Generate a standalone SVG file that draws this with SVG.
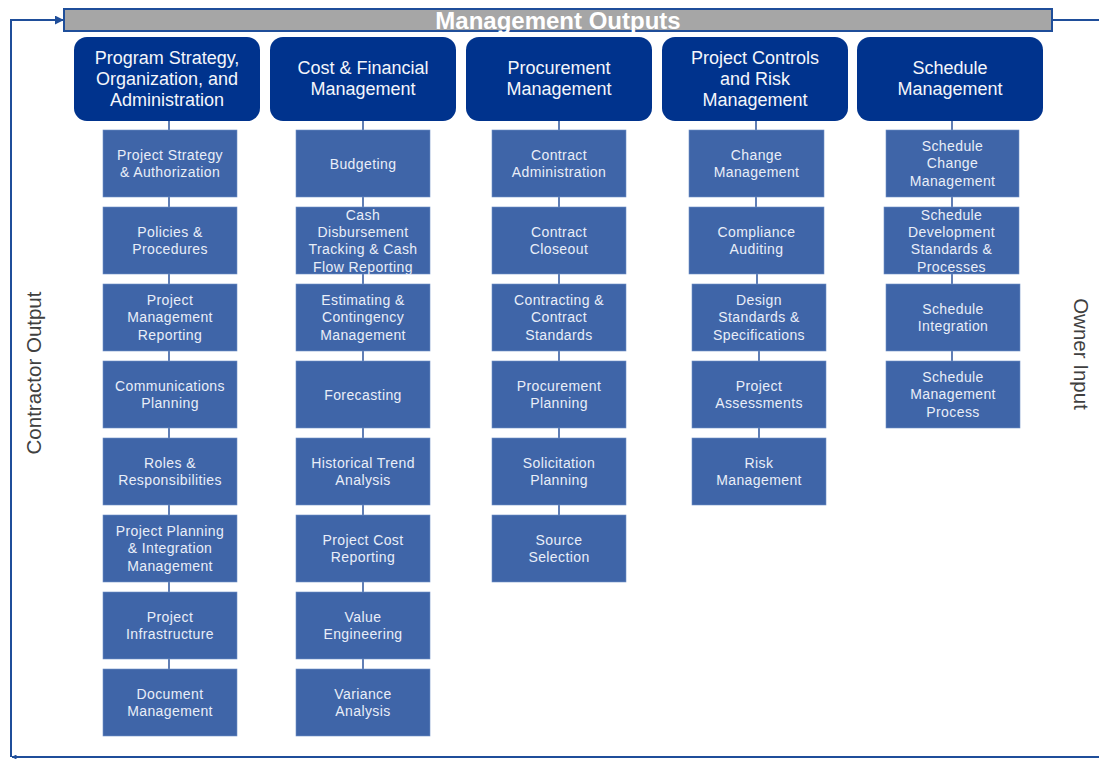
<svg xmlns="http://www.w3.org/2000/svg" width="1099" height="759" viewBox="0 0 1099 759">
<defs>
<style>
.hdr{fill:#00338D;}
.hdrt{fill:#F4F6FB;font-family:"Liberation Sans",Arial,sans-serif;font-size:18px;text-anchor:middle;}
.box{fill:#3F65A8;stroke:#6F8FC6;stroke-width:0.6;}
.bt{fill:#E9EEF8;font-family:"Liberation Sans",Arial,sans-serif;font-size:14px;letter-spacing:0.4px;text-anchor:middle;}
.conn{stroke:#3A5FA3;stroke-width:1.6;fill:none;}
.frame{stroke:#1F4E9A;stroke-width:2;fill:none;}
.side{fill:#404040;font-family:"Liberation Sans",Arial,sans-serif;font-size:20.5px;text-anchor:middle;}
</style>
<marker id="arr" viewBox="0 0 10 10" refX="9" refY="5" markerWidth="9" markerHeight="9" orient="auto" markerUnits="userSpaceOnUse">
<path d="M0,0 L10,5 L0,10 z" fill="#1F4E9A"/>
</marker>
<marker id="arrs" viewBox="0 0 10 10" refX="9" refY="5" markerWidth="5" markerHeight="5" orient="auto" markerUnits="userSpaceOnUse">
<path d="M0,0 L10,5 L0,10 z" fill="#1F4E9A"/>
</marker>
</defs>
<rect width="1099" height="759" fill="#FFFFFF"/>

<g id="connectors">
<path class="frame" d="M1053,20 L1099,20"/>
<path class="frame" d="M1099,757 L12,757" marker-end="url(#arrs)"/>
<path class="frame" d="M11,757 L11,20 L63,20" marker-end="url(#arr)"/>
<path class="conn" d="M169,120 L169,669"/>
<path class="conn" d="M363,120 L363,669"/>
<path class="conn" d="M559,120 L559,515"/>
<path class="conn" d="M756,120 L756,207 M757,274 L757,284 M759,351 L759,438"/>
<path class="conn" d="M952,120 L952,361"/>
</g>

<g id="management-outputs">
<rect x="64" y="9" width="988" height="22" fill="#A6A6A6" stroke="#1F4E9A" stroke-width="2"/>
<text x="558" y="28.5" fill="#FFFFFF" font-family="Liberation Sans,Arial,sans-serif" font-size="24" font-weight="bold" text-anchor="middle">Management Outputs</text>
</g>

<g id="label-contractor-output"><text class="side" transform="translate(41,373) rotate(-90)">Contractor Output</text></g>
<g id="label-owner-input"><text class="side" transform="translate(1074,354) rotate(90)">Owner Input</text></g>

<g id="hdr-program"><rect class="hdr" x="74" y="37" width="186" height="84" rx="13"/><text class="hdrt" y="64"><tspan x="167" dy="0">Program Strategy,</tspan><tspan x="167" dy="21">Organization, and</tspan><tspan x="167" dy="21">Administration</tspan></text></g>
<g id="hdr-cost"><rect class="hdr" x="270" y="37" width="186" height="84" rx="13"/><text class="hdrt" y="74"><tspan x="363" dy="0">Cost &amp; Financial</tspan><tspan x="363" dy="21">Management</tspan></text></g>
<g id="hdr-procurement"><rect class="hdr" x="466" y="37" width="186" height="84" rx="13"/><text class="hdrt" y="74"><tspan x="559" dy="0">Procurement</tspan><tspan x="559" dy="21">Management</tspan></text></g>
<g id="hdr-controls"><rect class="hdr" x="662" y="37" width="186" height="84" rx="13"/><text class="hdrt" y="64"><tspan x="755" dy="0">Project Controls</tspan><tspan x="755" dy="21">and Risk</tspan><tspan x="755" dy="21">Management</tspan></text></g>
<g id="hdr-schedule"><rect class="hdr" x="857" y="37" width="186" height="84" rx="13"/><text class="hdrt" y="74"><tspan x="950" dy="0">Schedule</tspan><tspan x="950" dy="21">Management</tspan></text></g>

<!-- Column 1 -->
<g id="c1-r1"><rect class="box" x="103" y="130" width="134" height="67"/><text class="bt" y="159.5"><tspan x="170">Project Strategy</tspan><tspan x="170" dy="17.4">&amp; Authorization</tspan></text></g>
<g id="c1-r2"><rect class="box" x="103" y="207" width="134" height="67"/><text class="bt" y="236.5"><tspan x="170">Policies &amp;</tspan><tspan x="170" dy="17.4">Procedures</tspan></text></g>
<g id="c1-r3"><rect class="box" x="103" y="284" width="134" height="67"/><text class="bt" y="304.8"><tspan x="170">Project</tspan><tspan x="170" dy="17.4">Management</tspan><tspan x="170" dy="17.4">Reporting</tspan></text></g>
<g id="c1-r4"><rect class="box" x="103" y="361" width="134" height="67"/><text class="bt" y="390.5"><tspan x="170">Communications</tspan><tspan x="170" dy="17.4">Planning</tspan></text></g>
<g id="c1-r5"><rect class="box" x="103" y="438" width="134" height="67"/><text class="bt" y="467.5"><tspan x="170">Roles &amp;</tspan><tspan x="170" dy="17.4">Responsibilities</tspan></text></g>
<g id="c1-r6"><rect class="box" x="103" y="515" width="134" height="67"/><text class="bt" y="535.8"><tspan x="170">Project Planning</tspan><tspan x="170" dy="17.4">&amp; Integration</tspan><tspan x="170" dy="17.4">Management</tspan></text></g>
<g id="c1-r7"><rect class="box" x="103" y="592" width="134" height="67"/><text class="bt" y="621.5"><tspan x="170">Project</tspan><tspan x="170" dy="17.4">Infrastructure</tspan></text></g>
<g id="c1-r8"><rect class="box" x="103" y="669" width="134" height="67"/><text class="bt" y="698.5"><tspan x="170">Document</tspan><tspan x="170" dy="17.4">Management</tspan></text></g>

<!-- Column 2 -->
<g id="c2-r1"><rect class="box" x="296" y="130" width="134" height="67"/><text class="bt" y="168.5"><tspan x="363">Budgeting</tspan></text></g>
<g id="c2-r2"><rect class="box" x="296" y="207" width="134" height="67"/><text class="bt" y="219.6"><tspan x="363">Cash</tspan><tspan x="363" dy="17.4">Disbursement</tspan><tspan x="363" dy="17.4">Tracking &amp; Cash</tspan><tspan x="363" dy="17.4">Flow Reporting</tspan></text></g>
<g id="c2-r3"><rect class="box" x="296" y="284" width="134" height="67"/><text class="bt" y="304.8"><tspan x="363">Estimating &amp;</tspan><tspan x="363" dy="17.4">Contingency</tspan><tspan x="363" dy="17.4">Management</tspan></text></g>
<g id="c2-r4"><rect class="box" x="296" y="361" width="134" height="67"/><text class="bt" y="399.5"><tspan x="363">Forecasting</tspan></text></g>
<g id="c2-r5"><rect class="box" x="296" y="438" width="134" height="67"/><text class="bt" y="467.5"><tspan x="363">Historical Trend</tspan><tspan x="363" dy="17.4">Analysis</tspan></text></g>
<g id="c2-r6"><rect class="box" x="296" y="515" width="134" height="67"/><text class="bt" y="544.5"><tspan x="363">Project Cost</tspan><tspan x="363" dy="17.4">Reporting</tspan></text></g>
<g id="c2-r7"><rect class="box" x="296" y="592" width="134" height="67"/><text class="bt" y="621.5"><tspan x="363">Value</tspan><tspan x="363" dy="17.4">Engineering</tspan></text></g>
<g id="c2-r8"><rect class="box" x="296" y="669" width="134" height="67"/><text class="bt" y="698.5"><tspan x="363">Variance</tspan><tspan x="363" dy="17.4">Analysis</tspan></text></g>

<!-- Column 3 -->
<g id="c3-r1"><rect class="box" x="492" y="130" width="134" height="67"/><text class="bt" y="159.5"><tspan x="559">Contract</tspan><tspan x="559" dy="17.4">Administration</tspan></text></g>
<g id="c3-r2"><rect class="box" x="492" y="207" width="134" height="67"/><text class="bt" y="236.5"><tspan x="559">Contract</tspan><tspan x="559" dy="17.4">Closeout</tspan></text></g>
<g id="c3-r3"><rect class="box" x="492" y="284" width="134" height="67"/><text class="bt" y="304.8"><tspan x="559">Contracting &amp;</tspan><tspan x="559" dy="17.4">Contract</tspan><tspan x="559" dy="17.4">Standards</tspan></text></g>
<g id="c3-r4"><rect class="box" x="492" y="361" width="134" height="67"/><text class="bt" y="390.5"><tspan x="559">Procurement</tspan><tspan x="559" dy="17.4">Planning</tspan></text></g>
<g id="c3-r5"><rect class="box" x="492" y="438" width="134" height="67"/><text class="bt" y="467.5"><tspan x="559">Solicitation</tspan><tspan x="559" dy="17.4">Planning</tspan></text></g>
<g id="c3-r6"><rect class="box" x="492" y="515" width="134" height="67"/><text class="bt" y="544.5"><tspan x="559">Source</tspan><tspan x="559" dy="17.4">Selection</tspan></text></g>

<!-- Column 4 -->
<g id="c4-r1"><rect class="box" x="689" y="130" width="135" height="67"/><text class="bt" y="159.5"><tspan x="756.5">Change</tspan><tspan x="756.5" dy="17.4">Management</tspan></text></g>
<g id="c4-r2"><rect class="box" x="689" y="207" width="135" height="67"/><text class="bt" y="236.5"><tspan x="756.5">Compliance</tspan><tspan x="756.5" dy="17.4">Auditing</tspan></text></g>
<g id="c4-r3"><rect class="box" x="692" y="284" width="134" height="67"/><text class="bt" y="304.8"><tspan x="759">Design</tspan><tspan x="759" dy="17.4">Standards &amp;</tspan><tspan x="759" dy="17.4">Specifications</tspan></text></g>
<g id="c4-r4"><rect class="box" x="692" y="361" width="134" height="67"/><text class="bt" y="390.5"><tspan x="759">Project</tspan><tspan x="759" dy="17.4">Assessments</tspan></text></g>
<g id="c4-r5"><rect class="box" x="692" y="438" width="134" height="67"/><text class="bt" y="467.5"><tspan x="759">Risk</tspan><tspan x="759" dy="17.4">Management</tspan></text></g>

<!-- Column 5 -->
<g id="c5-r1"><rect class="box" x="886" y="130" width="133" height="67"/><text class="bt" y="150.8"><tspan x="952.5">Schedule</tspan><tspan x="952.5" dy="17.4">Change</tspan><tspan x="952.5" dy="17.4">Management</tspan></text></g>
<g id="c5-r2"><rect class="box" x="884" y="207" width="135" height="67"/><text class="bt" y="219.6"><tspan x="951.5">Schedule</tspan><tspan x="951.5" dy="17.4">Development</tspan><tspan x="951.5" dy="17.4">Standards &amp;</tspan><tspan x="951.5" dy="17.4">Processes</tspan></text></g>
<g id="c5-r3"><rect class="box" x="886" y="284" width="134" height="67"/><text class="bt" y="313.5"><tspan x="953">Schedule</tspan><tspan x="953" dy="17.4">Integration</tspan></text></g>
<g id="c5-r4"><rect class="box" x="886" y="361" width="134" height="67"/><text class="bt" y="381.8"><tspan x="953">Schedule</tspan><tspan x="953" dy="17.4">Management</tspan><tspan x="953" dy="17.4">Process</tspan></text></g>
</svg>
